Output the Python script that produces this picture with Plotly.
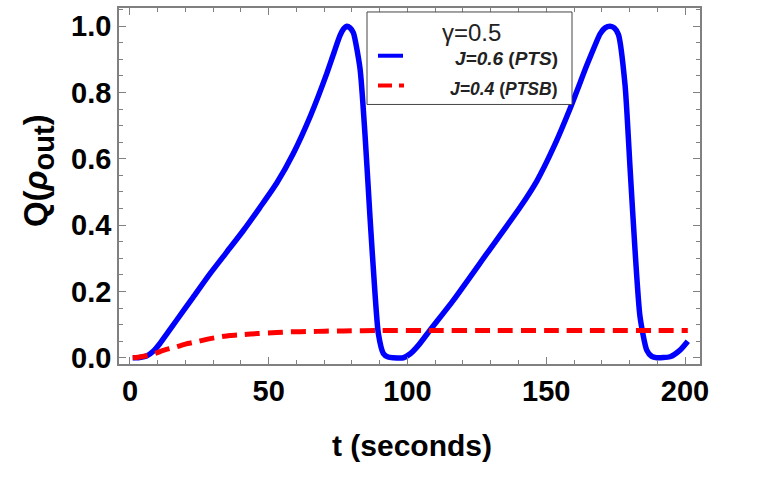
import plotly.graph_objects as go

# ---- data ----
t_pts = [1, 3, 6, 8.5, 10.8, 13.8, 16.8, 22.8, 28.8, 34.8, 40.8, 46.8, 52.9, 58.9, 64.9, 70.9,
         73.5, 75.7, 77, 78.1, 79.3, 80.5, 82.9, 84.7, 86.5, 88.3, 89.5, 91.3, 93, 94.9, 98.5, 101,
         104, 108.1, 116.5, 128.5, 140.5, 146.6, 152.5, 158.6, 164.6, 167.2, 169.4, 171.2, 173,
         174.5, 176, 178.4, 180.2, 182, 183.8, 186.2, 188, 189.8, 194.6, 198.2, 201]
q_pts = [0.0, 0.0, 0.005, 0.02, 0.043, 0.078, 0.113, 0.183, 0.253, 0.318, 0.383, 0.453, 0.527,
         0.617, 0.727, 0.857, 0.92, 0.972, 0.992, 1.0, 0.995, 0.98, 0.872, 0.672, 0.423, 0.193,
         0.073, 0.013, 0.002, 0.0, 0.0, 0.012, 0.038, 0.083, 0.173, 0.313, 0.453, 0.533, 0.632,
         0.752, 0.882, 0.935, 0.977, 0.995, 1.0, 0.995, 0.975, 0.822, 0.572, 0.323, 0.123, 0.023,
         0.004, 0.0, 0.003, 0.023, 0.05]

t_ptsb = [1, 4, 8.4, 12, 16.8, 20, 24, 28, 32.4, 36, 40.8, 46, 52.9, 58, 64.9, 70, 76.9, 90, 110,
          130, 150, 170, 190, 201]
q_ptsb = [0.0, 0.003, 0.011, 0.022, 0.033, 0.041, 0.048, 0.056, 0.063, 0.067, 0.07, 0.073, 0.076,
          0.078, 0.079, 0.08, 0.081, 0.082, 0.082, 0.082, 0.082, 0.082, 0.082, 0.082]

x_ticks = [0, 50, 100, 150, 200]
y_ticks = [0.0, 0.2, 0.4, 0.6, 0.8, 1.0]
y_tick_text = ["0.0", "0.2", "0.4", "0.6", "0.8", "1.0"]

legend_title = "γ=0.5"
legend_labels = ["<b><i>J=0.6</i> (<i>PTS</i>)</b>", "<b><i>J=0.4</i> (<i>PTSB</i>)</b>"]

W, H = 782, 482
L, R, T, B = 119, 700, 6, 364  # plot frame in pixels


def px(x):
    return (x - L) / (R - L)


def py(y):
    return (B - y) / (B - T)


fig = go.Figure()
fig.add_trace(go.Scatter(x=t_pts, y=q_pts, mode="lines",
                         line=dict(color="#0000FF", width=5.5, shape="spline", smoothing=0.6),
                         showlegend=False))
fig.add_trace(go.Scatter(x=t_ptsb, y=q_ptsb, mode="lines",
                         line=dict(color="#FF0000", width=5, dash="15px,8px", shape="spline", smoothing=0.6),
                         showlegend=False))

frame_col = "#808080"
tickfont = dict(family="Liberation Sans, Arial", size=29, color="black", weight="bold")
fig.update_xaxes(range=[-3.95, 205.4], showgrid=False, zeroline=False, showline=True, linecolor=frame_col,
                 linewidth=1.5, mirror="allticks", ticks="inside", ticklen=7, tickcolor=frame_col, tickwidth=1,
                 tickvals=x_ticks, tickfont=tickfont, ticklabelstandoff=0,
                 minor=dict(ticks="inside", dtick=10, ticklen=4, tickcolor=frame_col, tickwidth=1))
fig.update_yaxes(range=[-0.0189, 1.0549], showgrid=False, zeroline=False, showline=True, linecolor=frame_col,
                 linewidth=1.5, mirror="allticks", ticks="inside", ticklen=7, tickcolor=frame_col, tickwidth=1,
                 tickvals=y_ticks, ticktext=y_tick_text, tickfont=tickfont, ticklabelstandoff=0,
                 minor=dict(ticks="inside", dtick=0.05, ticklen=4, tickcolor=frame_col, tickwidth=1))

annotations = [
    dict(x=px(412), y=py(446), xref="paper", yref="paper", text="<b>t (seconds)</b>", showarrow=False,
         font=dict(family="Liberation Sans, Arial", size=30, color="black"), xanchor="center", yanchor="middle"),
    dict(x=px(38), y=py(170), xref="paper", yref="paper",
         text="<b>Q(<i>ρ</i><sub><span style='font-size:29px'>out</span></sub>)</b>", showarrow=False,
         textangle=-90, font=dict(family="Liberation Sans, Arial", size=33, color="black"),
         xanchor="center", yanchor="middle"),
    dict(x=px(471), y=py(31), xref="paper", yref="paper", text=legend_title, showarrow=False,
         font=dict(family="Liberation Sans, Arial", size=24, color="#222222"), xanchor="center", yanchor="middle"),
    dict(x=px(560), y=py(57), xref="paper", yref="paper", text=legend_labels[0], showarrow=False,
         font=dict(family="Liberation Sans, Arial", size=19, color="#222222"), xanchor="right", yanchor="middle"),
    dict(x=px(560), y=py(87), xref="paper", yref="paper", text=legend_labels[1], showarrow=False,
         font=dict(family="Liberation Sans, Arial", size=17.5, color="#222222"), xanchor="right", yanchor="middle"),
]

shapes = [
    dict(type="rect", xref="paper", yref="paper", x0=px(367), x1=px(572), y0=py(103), y1=py(10),
         line=dict(color="#444444", width=1), fillcolor="white", layer="above"),
    dict(type="line", xref="paper", yref="paper", x0=px(378), x1=px(403), y0=py(54), y1=py(54),
         line=dict(color="#0000FF", width=4), layer="above"),
    dict(type="line", xref="paper", yref="paper", x0=px(378), x1=px(404), y0=py(84), y1=py(84),
         line=dict(color="#FF0000", width=4, dash="14px,7px"), layer="above"),
]

fig.update_layout(width=W, height=H, margin=dict(l=L, r=W - R, t=T, b=H - B), plot_bgcolor="white",
                  paper_bgcolor="white", annotations=annotations, shapes=shapes, showlegend=False)

fig.write_html("out.html")
